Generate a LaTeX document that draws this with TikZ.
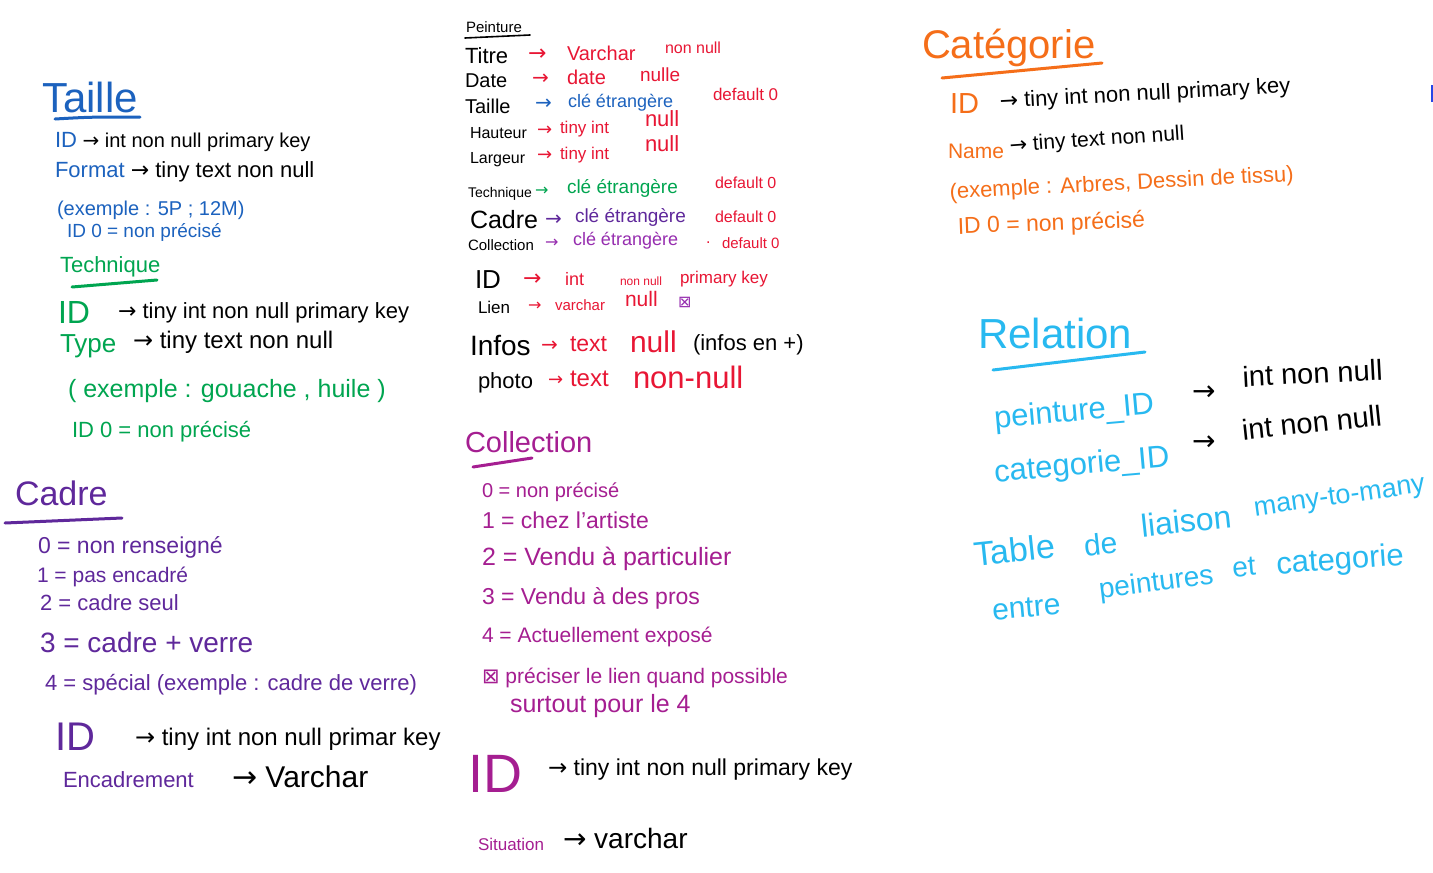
\documentclass[tikz,border=0pt]{standalone}
\usepackage{fontspec}
\setmainfont{Liberation Sans}
\newfontfamily\symfont{DejaVu Sans}
\newcommand\fs[1]{\fontsize{#1}{#1}\selectfont}
\newcommand\ar{{\symfont →}}
\newcommand\boxmark{{\symfont ⊠}}
\definecolor{tblue}{RGB}{28,98,190}
\definecolor{tgreen}{RGB}{0,165,80}
\definecolor{tpurple}{RGB}{95,40,155}
\definecolor{tred}{RGB}{232,22,52}
\definecolor{tmag}{RGB}{165,30,145}
\definecolor{tviol}{RGB}{150,45,175}
\definecolor{torange}{RGB}{245,110,25}
\definecolor{tcyan}{RGB}{40,185,240}
\definecolor{tedge}{RGB}{40,70,230}
\tikzset{
  lbl/.style={anchor=base west, inner sep=0pt, outer sep=0pt},
  ink/.style={line width=#1, line cap=round},
}
\begin{document}
\begin{tikzpicture}[x=1pt,y=-1pt]
\useasboundingbox (0,0) rectangle (1433,873);
\fill[white] (0,0) rectangle (1433,873);

% ---------------- Taille ----------------
\node[lbl, text=tblue, font=\fs{42}] (taH) at (42,112) {Taille};
\draw[tblue, ink=3] (55,119) .. controls (90,117) .. (140,117);
\node[lbl, font=\fs{20}] (ta1) at (55,147) {\textcolor{tblue}{\fs{22}ID} \ar{} int non null primary key};
\node[lbl, font=\fs{22}] (ta2) at (55,177) {\textcolor{tblue}{Format} \ar{} tiny text non null};
\node[lbl, text=tblue, font=\fs{20}] (ta3) at (57,215) {(exemple : 5P ; 12M)};
\node[lbl, text=tblue, font=\fs{19}] (ta4) at (67,237) {ID 0 = non précisé};

% ---------------- Technique ----------------
\node[lbl, text=tgreen, font=\fs{22}] (teH) at (60,272) {Technique};
\draw[tgreen, ink=3] (72,287) -- (157,280);
\node[lbl, text=tgreen, font=\fs{32}] (te1a) at (58,323) {ID};
\node[lbl, font=\fs{22}] (te1b) at (118,318) {\ar{} tiny int non null primary key};
\node[lbl, text=tgreen, font=\fs{26}] (te2a) at (60,352) {Type};
\node[lbl, font=\fs{24}] (te2b) at (133,348) {\ar{} tiny text non null};
\node[lbl, text=tgreen, font=\fs{25}] (te3) at (68,397) {( exemple : gouache , huile )};
\node[lbl, text=tgreen, font=\fs{22}] (te4) at (72,437) {ID 0 = non précisé};

% ---------------- Cadre ----------------
\node[lbl, text=tpurple, font=\fs{34}] (caH) at (15,505) {Cadre};
\draw[tpurple, ink=3] (5,523) -- (122,518);
\node[lbl, text=tpurple, font=\fs{23}] (ca0) at (38,553) {0 = non renseigné};
\node[lbl, text=tpurple, font=\fs{21}] (ca1) at (37,582) {1 = pas encadré};
\node[lbl, text=tpurple, font=\fs{22}] (ca2) at (40,610) {2 = cadre seul};
\node[lbl, text=tpurple, font=\fs{28}] (ca3) at (40,652) {3 = cadre + verre};
\node[lbl, text=tpurple, font=\fs{22}] (ca4) at (45,690) {4 = spécial (exemple : cadre de verre)};
\node[lbl, text=tpurple, font=\fs{40}] (ca5a) at (55,750) {ID};
\node[lbl, font=\fs{24}] (ca5b) at (135,745) {\ar{} tiny int non null primar key};
\node[lbl, text=tpurple, font=\fs{22}] (ca6a) at (63,787) {Encadrement};
\node[lbl, font=\fs{30}] (ca6b) at (232,787) {\ar{} Varchar};

% ---------------- Peinture ----------------
\node[lbl, font=\fs{15}] (peH) at (466,32) {Peinture};
\draw[black, ink=1.6] (465,38) -- (530,35);

\node[lbl, font=\fs{22}] (p1a) at (465,63) {Titre};
\node[lbl, text=tred, font=\fs{22}] (p1b) at (528,60) {\ar};
\node[lbl, text=tred, font=\fs{20}] (p1c) at (567,60) {Varchar};
\node[lbl, text=tred, font=\fs{16}] (p1d) at (665,53) {non null};

\node[lbl, font=\fs{20}] (p2a) at (465,87) {Date};
\node[lbl, text=tred, font=\fs{20}] (p2b) at (532,84) {\ar};
\node[lbl, text=tred, font=\fs{20}] (p2c) at (567,84) {date};
\node[lbl, text=tred, font=\fs{19}] (p2d) at (640,81) {nulle};

\node[lbl, font=\fs{20}] (p3a) at (465,113) {Taille};
\node[lbl, text=tblue, font=\fs{20}] (p3b) at (535,109) {\ar};
\node[lbl, text=tblue, font=\fs{18}] (p3c) at (568,107) {clé étrangère};
\node[lbl, text=tred, font=\fs{17}] (p3d) at (713,100) {default 0};

\node[lbl, font=\fs{16}] (p4a) at (470,138) {Hauteur};
\node[lbl, text=tred, font=\fs{18}] (p4b) at (537,135) {\ar};
\node[lbl, text=tred, font=\fs{17}] (p4c) at (560,133) {tiny int};
\node[lbl, text=tred, font=\fs{22}] (p4d) at (645,126) {null};

\node[lbl, font=\fs{16}] (p5a) at (470,163) {Largeur};
\node[lbl, text=tred, font=\fs{18}] (p5b) at (537,160) {\ar};
\node[lbl, text=tred, font=\fs{17}] (p5c) at (560,159) {tiny int};
\node[lbl, text=tred, font=\fs{22}] (p5d) at (645,151) {null};

\node[lbl, font=\fs{14}] (p6a) at (468,197) {Technique};
\node[lbl, text=tgreen, font=\fs{16}] (p6b) at (535,195) {\ar};
\node[lbl, text=tgreen, font=\fs{19}] (p6c) at (567,193) {clé étrangère};
\node[lbl, text=tred, font=\fs{16}] (p6d) at (715,188) {default 0};

\node[lbl, font=\fs{25}] (p7a) at (470,228) {Cadre};
\node[lbl, text=tpurple, font=\fs{20}] (p7b) at (545,225) {\ar};
\node[lbl, text=tpurple, font=\fs{19}] (p7c) at (575,222) {clé étrangère};
\node[lbl, text=tred, font=\fs{16}] (p7d) at (715,222) {default 0};

\node[lbl, font=\fs{15}] (p8a) at (468,250) {Collection};
\node[lbl, text=tviol, font=\fs{16}] (p8b) at (545,247) {\ar};
\node[lbl, text=tviol, font=\fs{18}] (p8c) at (573,245) {clé étrangère};
\node[lbl, text=tred, font=\fs{16}] (p8e) at (706,243) {.};
\node[lbl, text=tred, font=\fs{15}] (p8d) at (722,248) {default 0};

\node[lbl, font=\fs{26}] (p9a) at (475,288) {ID};
\node[lbl, text=tred, font=\fs{22}] (p9b) at (523,285) {\ar};
\node[lbl, text=tred, font=\fs{18}] (p9c) at (565,285) {int};
\node[lbl, text=tred, font=\fs{12}] (p9d) at (620,285) {non null};
\node[lbl, text=tred, font=\fs{17}] (p9e) at (680,283) {primary key};

\node[lbl, font=\fs{17}] (p10a) at (478,313) {Lien};
\node[lbl, text=tred, font=\fs{16}] (p10b) at (528,310) {\ar};
\node[lbl, text=tred, font=\fs{15}] (p10c) at (555,310) {varchar};
\node[lbl, text=tred, font=\fs{21}] (p10d) at (625,306) {null};
\node[lbl, text=tviol, font=\fs{16}] (p10e) at (678,307) {\boxmark};

\node[lbl, font=\fs{28}] (p11a) at (470,355) {Infos};
\node[lbl, text=tred, font=\fs{20}] (p11b) at (541,351) {\ar};
\node[lbl, text=tred, font=\fs{23}] (p11c) at (570,351) {text};
\node[lbl, text=tred, font=\fs{30}] (p11d) at (630,352) {null};
\node[lbl, font=\fs{22}] (p11e) at (693,350) {(infos en +)};

\node[lbl, font=\fs{22}] (p12a) at (478,388) {photo};
\node[lbl, text=tred, font=\fs{18}] (p12b) at (548,385) {\ar};
\node[lbl, text=tred, font=\fs{24}] (p12c) at (570,386) {text};
\node[lbl, text=tred, font=\fs{31}] (p12d) at (633,388) {non-null};

% ---------------- Collection ----------------
\node[lbl, text=tmag, font=\fs{29}] (coH) at (465,452) {Collection};
\draw[tmag, ink=3] (473,467) -- (532,458);
\node[lbl, text=tmag, font=\fs{20}] (co0) at (482,497) {0 = non précisé};
\node[lbl, text=tmag, font=\fs{23}] (co1) at (482,528) {1 = chez l'artiste};
\node[lbl, text=tmag, font=\fs{25}] (co2) at (482,565) {2 = Vendu à particulier};
\node[lbl, text=tmag, font=\fs{23}] (co3) at (482,604) {3 = Vendu à des pros};
\node[lbl, text=tmag, font=\fs{21}] (co4) at (482,642) {4 = Actuellement exposé};
\node[lbl, text=tmag, font=\fs{21}] (co5) at (482,683) {\boxmark{} préciser le lien quand possible};
\node[lbl, text=tmag, font=\fs{25}] (co6) at (510,712) {surtout pour le 4};
\node[lbl, text=tmag, font=\fs{54}] (co7a) at (468,792) {ID};
\node[lbl, font=\fs{23}] (co7b) at (548,775) {\ar{} tiny int non null primary key};
\node[lbl, text=tmag, font=\fs{17}] (co8a) at (478,850) {Situation};
\node[lbl, font=\fs{28}] (co8b) at (563,848) {\ar{} varchar};

% ---------------- Catégorie ----------------
\node[lbl, text=torange, font=\fs{40}] (ctH) at (922,58) {Catégorie};
\draw[torange, ink=3] (942,78) -- (1102,63);
\node[lbl, text=torange, font=\fs{29}] (ct1a) at (950,113) {ID};
\node[lbl, rotate=3, font=\fs{22}] (ct1b) at (1000,108) {\ar{} tiny int non null primary key};
\node[lbl, text=torange, font=\fs{21}] (ct2a) at (948,158) {Name};
\node[lbl, rotate=4, font=\fs{21}] (ct2b) at (1010,152) {\ar{} tiny text non null};
\node[lbl, rotate=3, text=torange, font=\fs{22}] (ct3) at (950,199) {(exemple : Arbres, Dessin de tissu)};
\node[lbl, rotate=2, text=torange, font=\fs{23}] (ct4) at (958,234) {ID 0 = non précisé};

% ---------------- Relation ----------------
\node[lbl, text=tcyan, font=\fs{42}] (reH) at (978,348) {Relation};
\draw[tcyan, ink=3] (993,370) .. controls (1060,362) .. (1145,352);

\node[lbl, rotate=5, text=tcyan, font=\fs{31}] (re1a) at (995,428) {peinture\_ID};
\node[lbl, font=\fs{28}] (re1b) at (1192,400) {\ar};
\node[lbl, rotate=3, font=\fs{29}] (re1c) at (1243,387) {int non null};
\node[lbl, rotate=5, text=tcyan, font=\fs{31}] (re2a) at (995,482) {categorie\_ID};
\node[lbl, font=\fs{28}] (re2b) at (1192,450) {\ar};
\node[lbl, rotate=6, font=\fs{29}] (re2c) at (1243,440) {int non null};

% note written along a rising slope, word by word
\node[lbl, rotate=6, text=tcyan, font=\fs{34}] (re3a) at (975,566) {Table};
\node[lbl, rotate=6, text=tcyan, font=\fs{30}] (re3b) at (1085,556) {de};
\node[lbl, rotate=6, text=tcyan, font=\fs{32}] (re3c) at (1142,537) {liaison};
\node[lbl, rotate=8, text=tcyan, font=\fs{27}] (re3d) at (1255,516) {many-to-many};
\node[lbl, rotate=5, text=tcyan, font=\fs{30}] (re4a) at (993,620) {entre};
\node[lbl, rotate=7, text=tcyan, font=\fs{28}] (re4b) at (1100,598) {peintures};
\node[lbl, rotate=5, text=tcyan, font=\fs{28}] (re4c) at (1233,577) {et};
\node[lbl, rotate=4, text=tcyan, font=\fs{31}] (re4d) at (1277,574) {categorie};

% small mark at the right border
\fill[tedge] (1431,85) rectangle (1433,102);
\end{tikzpicture}
\end{document}
